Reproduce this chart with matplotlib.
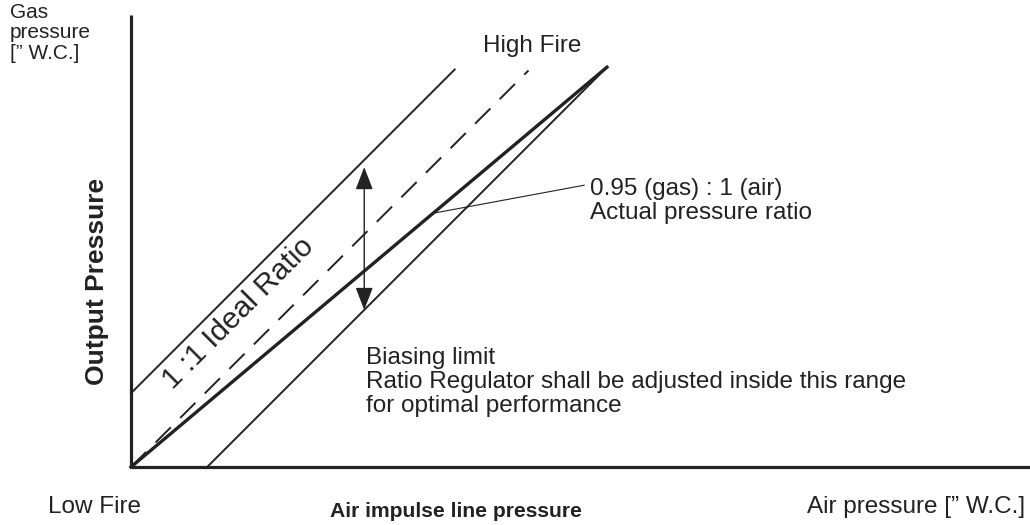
import matplotlib
matplotlib.use("Agg")
import matplotlib.pyplot as plt

plt.rcParams['font.family'] = ['Liberation Sans', 'DejaVu Sans']
plt.rcParams['lines.scale_dashes'] = False

# ---- data (arbitrary pressure units, schematic) ----
air_upper = [0.0, 6.8]      # upper biasing limit (1:1 offset up)
gas_upper = [1.55, 8.35]
air_ideal = [0.0, 8.35]     # 1:1 ideal ratio (dashed)
gas_ideal = [0.0, 8.33]
air_actual = [0.0, 10.0]    # 0.95 : 1 actual ratio (thick)
gas_actual = [0.0, 8.4]
air_lower = [1.6, 10.0]     # lower biasing limit (1:1 offset right)
gas_lower = [0.0, 8.4]
arrow_air = 4.9
arrow_gas = [3.3, 6.3]
leader_air = [6.34, 9.52]
leader_gas = [5.33, 5.92]
x_axis_end = 18.9
y_axis_end = 9.5

ink = '#222222'

fig = plt.figure(figsize=(10.30, 5.25), dpi=100)
ax = fig.add_axes([0, 0, 1, 1])
ax.set_xlim(-2.752, 18.887)
ax.set_ylim(-1.218, 9.811)
ax.axis('off')

# axes
ax.plot([0, 0], [0, y_axis_end], color=ink, lw=2.3, solid_capstyle='butt')
ax.plot([0, x_axis_end], [0, 0], color=ink, lw=2.3, solid_capstyle='butt')

# lines
ax.plot(air_upper, gas_upper, color=ink, lw=1.4)
ax.plot(air_ideal, gas_ideal, color=ink, lw=1.4, dashes=(15.5, 9.5))
ax.plot(air_actual, gas_actual, color=ink, lw=2.4)
ax.plot(air_lower, gas_lower, color=ink, lw=1.4)
ax.plot(leader_air, leader_gas, color=ink, lw=0.8)

# double arrow
ax.annotate('', xy=(arrow_air, arrow_gas[1]), xytext=(arrow_air, arrow_gas[0]),
            arrowprops=dict(arrowstyle='<|-|>,head_length=0.7,head_width=0.27',
                            mutation_scale=20, color=ink, lw=1.0,
                            shrinkA=0, shrinkB=0))

fs = 17.5
ax.text(-2.54, 8.58, 'Gas\npressure\n[\u201d W.C.]', ha='left', va='baseline',
        fontsize=15, color=ink, linespacing=1.08)
ax.text(-0.71, 3.89, 'Output Pressure', rotation=90, ha='center', va='center',
        fontsize=19, fontweight='bold', color=ink)
ax.text(7.39, 8.72, 'High Fire', ha='left', va='baseline', fontsize=fs, color=ink)
ax.text(2.25, 3.22, '1 :1 Ideal Ratio', rotation=45, ha='center', va='center',
        fontsize=21.5, color=ink, rotation_mode='anchor')
ax.text(9.64, 5.20, '0.95 (gas) : 1 (air)\nActual pressure ratio', ha='left',
        va='baseline', fontsize=fs, color=ink, linespacing=1.16)
ax.text(4.94, 1.16, 'Biasing limit\nRatio Regulator shall be adjusted inside this range\nfor optimal performance',
        ha='left', va='baseline', fontsize=fs, color=ink, linespacing=1.11)
ax.text(-1.74, -0.97, 'Low Fire', ha='left', va='baseline', fontsize=fs, color=ink)
ax.text(6.83, -1.05, 'Air impulse line pressure', ha='center', va='baseline',
        fontsize=15.2, fontweight='bold', color=ink)
ax.text(18.78, -0.97, 'Air pressure [\u201d W.C.]', ha='right', va='baseline',
        fontsize=fs, color=ink)

fig.savefig('out.png', dpi=100)
